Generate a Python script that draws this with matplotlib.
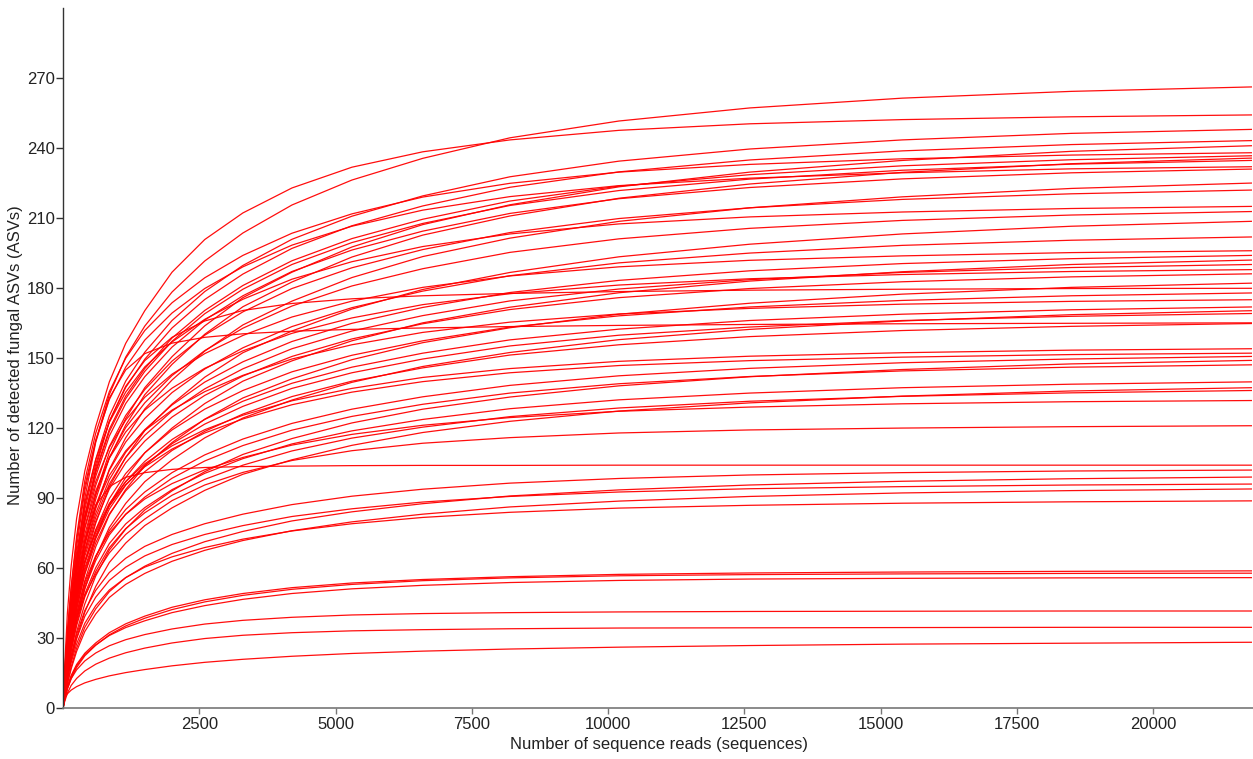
import matplotlib
matplotlib.use("Agg")
import matplotlib.pyplot as plt

reads = [0, 30, 80, 150, 250, 400, 600, 850, 1150, 1500, 2000, 2600, 3300, 4200,
         5300, 6600, 8200, 10200, 12600, 15400, 18500, 21800]

# detected ASVs per sample at those depths
sample_01 = [0, 13.3, 29.3, 47.9, 69.2, 93.2, 114.5, 134.5, 150.5, 163.8, 178.4, 191.7, 203.7, 215.7, 226.4, 235.7, 244.5, 251.7, 257.3, 261.5, 264.4, 266.3]
sample_02 = [0, 17.8, 40.7, 61.0, 81.4, 101.7, 120.8, 139.9, 156.4, 170.4, 186.9, 200.9, 212.3, 223.0, 231.9, 238.5, 243.6, 247.7, 250.5, 252.3, 253.5, 254.3]
sample_03 = [0, 12.4, 27.3, 44.7, 64.5, 86.8, 106.7, 125.3, 140.2, 152.6, 166.2, 178.6, 189.8, 201.0, 210.9, 219.6, 227.8, 234.5, 239.7, 243.6, 246.4, 248.1]
sample_04 = [0, 12.2, 26.8, 43.8, 63.3, 85.2, 104.6, 122.9, 137.5, 149.6, 163.0, 175.2, 186.1, 197.1, 206.8, 215.3, 223.3, 229.9, 235.0, 238.9, 241.6, 243.3]
sample_05 = [0, 9.6, 21.7, 36.2, 53.0, 72.3, 91.6, 109.7, 124.2, 137.4, 150.7, 163.9, 176.0, 186.9, 197.7, 207.3, 215.8, 223.5, 229.8, 234.8, 238.7, 241.1]
sample_06 = [0, 15.5, 33.3, 52.4, 73.8, 97.6, 117.9, 135.7, 150.0, 161.9, 173.8, 184.5, 194.1, 203.6, 211.9, 219.1, 225.0, 229.8, 233.1, 235.5, 237.1, 238.1]
sample_07 = [0, 11.8, 26.0, 42.6, 61.6, 82.9, 101.8, 119.6, 133.8, 145.6, 158.7, 170.5, 181.2, 191.8, 201.3, 209.6, 217.4, 223.8, 228.7, 232.5, 235.1, 236.8]
sample_08 = [0, 9.4, 21.2, 35.4, 51.9, 70.7, 89.6, 107.3, 121.4, 134.4, 147.4, 160.3, 172.1, 182.7, 193.4, 202.8, 211.0, 218.6, 224.7, 229.7, 233.4, 235.8]
sample_09 = [0, 11.7, 25.8, 42.3, 61.0, 82.2, 101.0, 118.6, 132.7, 144.4, 157.3, 169.1, 179.6, 190.2, 199.6, 207.8, 215.5, 221.9, 226.8, 230.6, 233.2, 234.8]
sample_10 = [0, 15.1, 32.5, 51.1, 72.0, 95.2, 114.9, 132.3, 146.2, 157.8, 169.4, 179.9, 189.2, 198.5, 206.6, 213.5, 219.3, 224.0, 227.2, 229.5, 231.2, 232.1]
sample_11 = [0, 11.6, 25.4, 41.6, 60.1, 80.9, 99.4, 116.7, 130.6, 142.1, 154.8, 166.4, 176.8, 187.2, 196.4, 204.5, 212.1, 218.4, 223.2, 226.9, 229.5, 231.1]
sample_12 = [0, 9.0, 20.3, 33.8, 49.5, 67.5, 85.5, 102.4, 115.9, 128.3, 140.7, 153.1, 164.3, 174.5, 184.6, 193.6, 201.5, 208.7, 214.5, 219.2, 222.8, 225.1]
sample_13 = [0, 11.1, 24.4, 40.0, 57.7, 77.7, 95.5, 112.2, 125.5, 136.6, 148.8, 159.9, 169.9, 179.9, 188.8, 196.6, 203.9, 209.9, 214.5, 218.1, 220.5, 222.1]
sample_14 = [0, 14.0, 30.1, 47.3, 66.7, 88.2, 106.5, 122.6, 135.5, 146.3, 157.0, 166.7, 175.3, 183.9, 191.4, 197.9, 203.3, 207.6, 210.6, 212.7, 214.2, 215.1]
sample_15 = [0, 10.6, 23.4, 38.3, 55.4, 74.5, 91.5, 107.5, 120.3, 130.9, 142.6, 153.3, 162.9, 172.4, 181.0, 188.4, 195.4, 201.2, 205.7, 209.1, 211.4, 212.9]
sample_16 = [0, 8.3, 18.8, 31.3, 45.9, 62.6, 79.3, 95.0, 107.5, 119.0, 130.4, 141.9, 152.4, 161.7, 171.1, 179.5, 186.8, 193.5, 198.9, 203.3, 206.6, 208.7]
sample_17 = [0, 10.1, 22.2, 36.4, 52.5, 70.7, 86.9, 102.0, 114.1, 124.2, 135.3, 145.4, 154.5, 163.6, 171.7, 178.8, 185.4, 190.9, 195.1, 198.4, 200.6, 202.0]
sample_18 = [0, 12.7, 27.5, 43.1, 60.8, 80.4, 97.1, 111.8, 123.5, 133.3, 143.2, 152.0, 159.8, 167.7, 174.5, 180.4, 185.3, 189.2, 192.0, 193.9, 195.3, 196.1]
sample_19 = [0, 9.7, 21.4, 34.9, 50.5, 67.9, 83.5, 98.0, 109.7, 119.4, 130.0, 139.8, 148.5, 157.2, 165.0, 171.8, 178.2, 183.4, 187.5, 190.6, 192.7, 194.1]
sample_20 = [0, 7.7, 17.3, 28.8, 42.3, 57.6, 73.0, 87.4, 98.9, 109.5, 120.1, 130.6, 140.2, 148.9, 157.5, 165.2, 171.9, 178.1, 183.1, 187.1, 190.2, 192.1]
sample_21 = [0, 9.5, 20.9, 34.2, 49.5, 66.6, 81.8, 96.1, 107.5, 117.0, 127.4, 136.9, 145.5, 154.1, 161.7, 168.3, 174.6, 179.7, 183.7, 186.8, 188.9, 190.2]
sample_22 = [0, 12.2, 26.3, 41.4, 58.3, 77.1, 93.1, 107.2, 118.4, 127.8, 137.2, 145.7, 153.2, 160.7, 167.3, 173.0, 177.7, 181.4, 184.1, 185.9, 187.2, 188.0]
sample_23 = [0, 9.3, 20.5, 33.5, 48.4, 65.2, 80.1, 94.0, 105.2, 114.5, 124.8, 134.1, 142.4, 150.8, 158.3, 164.8, 170.9, 176.0, 179.9, 182.8, 184.9, 186.2]
sample_24 = [0, 7.3, 16.4, 27.3, 40.1, 54.7, 69.2, 82.9, 93.8, 103.9, 113.9, 123.9, 133.0, 141.2, 149.4, 156.7, 163.1, 168.9, 173.6, 177.5, 180.4, 182.2]
sample_25 = [0, 8.0, 20.0, 35.0, 55.0, 80.0, 103.0, 123.0, 138.0, 149.0, 159.0, 166.0, 170.5, 173.5, 175.5, 176.8, 177.8, 178.6, 179.2, 179.6, 179.9, 180.0]
sample_26 = [0, 8.9, 19.6, 32.0, 46.3, 62.3, 76.5, 89.9, 100.6, 109.5, 119.3, 128.2, 136.2, 144.2, 151.3, 157.5, 163.4, 168.2, 172.0, 174.8, 176.8, 178.0]
sample_27 = [0, 11.4, 24.5, 38.5, 54.3, 71.8, 86.7, 99.8, 110.3, 119.1, 127.8, 135.7, 142.7, 149.7, 155.8, 161.1, 165.5, 169.0, 171.4, 173.2, 174.4, 175.1]
sample_28 = [0, 8.6, 18.9, 31.0, 44.7, 60.2, 74.0, 86.9, 97.2, 105.8, 115.2, 123.8, 131.6, 139.3, 146.2, 152.2, 157.9, 162.5, 166.2, 168.9, 170.8, 172.0]
sample_29 = [0, 6.8, 15.3, 25.6, 37.5, 51.1, 64.8, 77.5, 87.8, 97.1, 106.5, 115.9, 124.4, 132.1, 139.7, 146.5, 152.5, 158.0, 162.4, 166.0, 168.7, 170.4]
sample_30 = [0, 8.5, 18.6, 30.5, 44.0, 59.2, 72.8, 85.4, 95.6, 104.1, 113.4, 121.8, 129.4, 137.1, 143.8, 149.7, 155.3, 159.9, 163.4, 166.2, 168.0, 169.2]
sample_31 = [0, 8.2, 18.1, 29.7, 42.9, 57.7, 70.9, 83.3, 93.2, 101.4, 110.5, 118.7, 126.1, 133.6, 140.2, 145.9, 151.4, 155.8, 159.3, 161.9, 163.7, 164.9]
sample_32 = [0, 9.0, 23.0, 40.0, 62.0, 90.0, 114.0, 133.0, 145.0, 152.0, 156.5, 159.0, 160.5, 161.6, 162.4, 163.0, 163.6, 164.1, 164.5, 164.8, 165.0, 165.2]
sample_33 = [0, 10.0, 21.6, 33.9, 47.8, 63.2, 76.3, 87.8, 97.1, 104.8, 112.5, 119.4, 125.6, 131.8, 137.1, 141.8, 145.6, 148.7, 150.9, 152.4, 153.5, 154.1]
sample_34 = [0, 9.9, 21.3, 33.5, 47.2, 62.4, 75.3, 86.8, 95.9, 103.5, 111.1, 118.0, 124.0, 130.1, 135.5, 140.0, 143.8, 146.9, 149.0, 150.5, 151.6, 152.2]
sample_35 = [0, 7.5, 16.6, 27.1, 39.2, 52.8, 64.8, 76.2, 85.2, 92.7, 101.0, 108.6, 115.4, 122.1, 128.2, 133.5, 138.4, 142.5, 145.7, 148.1, 149.7, 150.8]
sample_36 = [0, 6.0, 13.4, 22.4, 32.8, 44.7, 56.7, 67.8, 76.8, 85.0, 93.2, 101.4, 108.8, 115.6, 122.3, 128.2, 133.4, 138.2, 142.1, 145.2, 147.6, 149.1]
sample_37 = [0, 7.4, 16.2, 26.5, 38.3, 51.5, 63.3, 74.3, 83.2, 90.5, 98.6, 106.0, 112.6, 119.2, 125.1, 130.3, 135.1, 139.1, 142.2, 144.6, 146.2, 147.2]
sample_38 = [0, 7.0, 15.4, 25.2, 36.4, 49.0, 60.2, 70.6, 79.0, 86.0, 93.7, 100.7, 107.0, 113.3, 118.9, 123.8, 128.4, 132.2, 135.1, 137.4, 138.9, 139.9]
sample_39 = [0, 5.5, 12.4, 20.6, 30.2, 41.2, 52.2, 62.5, 70.8, 78.3, 85.9, 93.4, 100.3, 106.5, 112.7, 118.2, 123.0, 127.4, 130.9, 133.8, 136.0, 137.4]
sample_40 = [0, 6.8, 15.0, 24.5, 35.4, 47.7, 58.6, 68.8, 77.0, 83.8, 91.3, 98.1, 104.2, 110.3, 115.8, 120.5, 125.0, 128.7, 131.6, 133.7, 135.2, 136.2]
sample_41 = [0, 8.6, 18.5, 29.0, 40.9, 54.1, 65.3, 75.2, 83.1, 89.7, 96.3, 102.2, 107.5, 112.8, 117.4, 121.3, 124.6, 127.3, 129.1, 130.5, 131.4, 131.9]
sample_42 = [0, 8.5, 19.4, 29.1, 38.8, 48.4, 57.5, 66.6, 74.5, 81.1, 89.0, 95.7, 101.1, 106.2, 110.4, 113.6, 116.0, 118.0, 119.3, 120.1, 120.7, 121.1]
sample_43 = [0, 7.0, 18.0, 32.0, 50.0, 70.0, 87.0, 95.0, 99.0, 101.0, 102.4, 103.2, 103.6, 103.8, 104.0, 104.1, 104.1, 104.2, 104.2, 104.2, 104.2, 104.2]
sample_44 = [0, 6.6, 14.3, 22.5, 31.7, 41.9, 50.5, 58.2, 64.3, 69.4, 74.5, 79.1, 83.2, 87.3, 90.9, 93.9, 96.5, 98.5, 100.0, 101.0, 101.7, 102.1]
sample_45 = [0, 5.0, 10.9, 17.8, 25.8, 34.7, 42.6, 50.0, 56.0, 60.9, 66.4, 71.4, 75.8, 80.3, 84.2, 87.7, 91.0, 93.6, 95.7, 97.3, 98.4, 99.1]
sample_46 = [0, 6.2, 13.5, 21.1, 29.8, 39.4, 47.6, 54.8, 60.5, 65.3, 70.2, 74.5, 78.3, 82.2, 85.5, 88.4, 90.8, 92.7, 94.1, 95.0, 95.7, 96.1]
sample_47 = [0, 4.7, 10.3, 16.9, 24.4, 32.9, 40.4, 47.5, 53.1, 57.8, 63.0, 67.7, 71.9, 76.1, 79.9, 83.2, 86.3, 88.8, 90.8, 92.3, 93.3, 94.0]
sample_48 = [0, 5.8, 12.4, 19.6, 27.6, 36.4, 44.0, 50.7, 56.0, 60.5, 64.9, 68.9, 72.5, 76.0, 79.1, 81.8, 84.0, 85.8, 87.0, 87.9, 88.5, 88.9]
sample_49 = [0, 4.1, 9.4, 14.1, 18.8, 23.6, 28.0, 32.4, 36.2, 39.5, 43.3, 46.5, 49.2, 51.7, 53.7, 55.2, 56.4, 57.4, 58.0, 58.4, 58.7, 58.9]
sample_50 = [0, 3.5, 8.2, 12.8, 17.5, 22.5, 27.0, 31.5, 35.3, 38.6, 42.3, 45.6, 48.4, 51.0, 53.1, 54.7, 55.9, 56.8, 57.3, 57.6, 57.8, 57.9]
sample_51 = [0, 3.9, 8.8, 13.5, 18.2, 23.0, 27.2, 31.2, 34.6, 37.5, 41.0, 44.0, 46.7, 49.2, 51.2, 52.7, 53.9, 54.8, 55.4, 55.7, 55.9, 56.0]
sample_52 = [0, 3.6, 8.4, 12.7, 16.5, 20.3, 23.7, 26.8, 29.4, 31.6, 34.0, 36.1, 37.7, 39.0, 40.0, 40.6, 41.0, 41.3, 41.5, 41.6, 41.7, 41.7]
sample_53 = [0, 2.8, 6.5, 9.8, 12.8, 16.0, 18.9, 21.5, 23.8, 25.8, 28.0, 29.9, 31.3, 32.4, 33.2, 33.7, 34.1, 34.4, 34.5, 34.6, 34.7, 34.7]
sample_54 = [0, 4.2, 6.2, 7.8, 9.3, 10.9, 12.4, 13.9, 15.3, 16.6, 18.2, 19.7, 21.0, 22.3, 23.5, 24.5, 25.4, 26.2, 26.9, 27.5, 27.9, 28.3]

samples = [sample_01, sample_02, sample_03, sample_04, sample_05, sample_06, sample_07,
           sample_08, sample_09, sample_10, sample_11, sample_12, sample_13, sample_14,
           sample_15, sample_16, sample_17, sample_18, sample_19, sample_20, sample_21,
           sample_22, sample_23, sample_24, sample_25, sample_26, sample_27, sample_28,
           sample_29, sample_30, sample_31, sample_32, sample_33, sample_34, sample_35,
           sample_36, sample_37, sample_38, sample_39, sample_40, sample_41, sample_42,
           sample_43, sample_44, sample_45, sample_46, sample_47, sample_48, sample_49,
           sample_50, sample_51, sample_52, sample_53, sample_54]

x_ticks = [2500, 5000, 7500, 10000, 12500, 15000, 17500, 20000]
y_ticks = [0, 30, 60, 90, 120, 150, 180, 210, 240, 270]

plt.rcParams['font.family'] = ['Liberation Sans', 'DejaVu Sans']

fig = plt.figure(figsize=(12.53, 7.59), dpi=100)
ax = fig.add_axes([63 / 1253, (759 - 708.3) / 759, (1253 - 63) / 1253, 700 / 759])

for s in samples:
    ax.plot(reads, s, color='#ff0000', lw=0.9, solid_joinstyle='round', alpha=0.95)

ax.set_xlim(0, 21830)
ax.set_ylim(0, 300)
ax.set_xticks(x_ticks)
ax.set_yticks(y_ticks)
ax.set_xticklabels([str(t) for t in x_ticks])
ax.set_yticklabels([str(t) for t in y_ticks])

for side in ['top', 'right']:
    ax.spines[side].set_visible(False)
ax.spines['left'].set_color('#333333')
ax.spines['bottom'].set_color('#777777')
ax.spines['left'].set_linewidth(1.0)
ax.spines['bottom'].set_linewidth(1.2)

ax.tick_params(axis='y', direction='out', length=5, width=1, color='#333333',
               labelsize=12, labelcolor='#222222', pad=1)
ax.tick_params(axis='x', direction='out', length=4, width=1, color='#777777',
               labelsize=12, labelcolor='#222222', pad=2)

ax.set_xlabel('Number of sequence reads (sequences)', fontsize=12, color='#222222')
ax.set_ylabel('Number of detected fungal ASVs (ASVs)', fontsize=12, color='#222222')
ax.xaxis.set_label_coords(0.501, -0.051)
ax.yaxis.set_label_coords(-0.040, 0.505)
ax.xaxis.label.set_va('center')
ax.yaxis.label.set_va('center')

fig.savefig('out.png', dpi=100)
